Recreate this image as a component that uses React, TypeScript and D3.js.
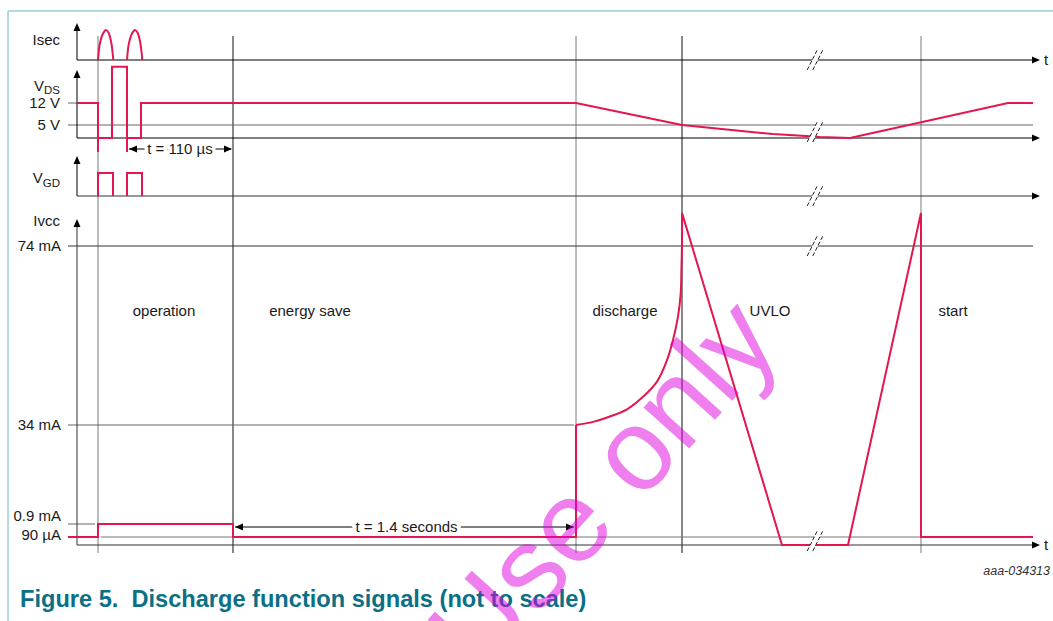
import React from 'react';
import * as d3 from 'd3';

const W = 1053;
const H = 621;

// ---- data (time in arbitrary units, chart is "not to scale") ----
const phaseBoundaries = [30, 165, 508, 614, 853];
const phaseNames = ['operation', 'energy save', 'discharge', 'UVLO', 'start'];
const phaseLabelTimes = [96, 242, 557, 702, 885];
const breakTime = 747;

// Isec humps
const isecHumpTimes = [
  [30, 32, 35.3, 38, 40.7, 43.3, 45.3],
  [59, 61, 64.3, 67, 69.7, 72.3, 74.3],
];
const isecHumpValues = [0, 0.57, 0.9, 1, 0.9, 0.57, 0];

// VDS (volts)
const vdsTimes = [9, 30, 30, 30, 44, 44, 59, 59, 59, 73, 73, 508, 614, 705, 742, 752, 782, 940, 965];
const vdsValues = [12, 12, -5.4, 0, 0, 23.5, 23.5, -5.4, 0, 0, 12, 12, 5, 1.5, 0.65, 0.38, 0, 12, 12];
const vdsTickValues = [12, 5];
const vdsTickLabels = ['12 V', '5 V'];

// VGD pulses
const vgdPulseTimes = [
  [30, 30, 45, 45],
  [59, 59, 74, 74],
];
const vgdPulseValues = [0, 1, 1, 0];

// Ivcc (mA)
const ivccStartTimes = [0, 30, 30, 165, 165, 508, 508];
const ivccStartValues = [0.09, 0.09, 0.9, 0.9, 0.09, 0.09, 34];
const ivccDischargeTimes = [508, 525, 542, 559, 575, 589, 599, 605, 610, 612.7, 613.5, 614, 614];
const ivccDischargeValues = [34, 34.7, 35.9, 37.5, 40.3, 43.7, 48.5, 53.0, 58.2, 63.4, 69.4, 74.6, 81.4];
const ivccEndTimes = [614, 714, 780, 853, 853, 965];
const ivccEndValues = [81.4, 0, 0, 81.4, 0.09, 0.09];
const ivccTickValues = [74, 34, 0.9, 0.09];
const ivccTickLabels = ['74 mA', '34 mA', '0.9 mA', '90 µA'];

// ---- scales ----
const x = d3.scaleLinear().domain([0, 972]).range([68, 1040]);
const isecY = d3.scaleLinear().domain([0, 1]).range([60, 30]);
const vdsY = d3.scaleLinear().domain([0, 5, 12]).range([138, 125, 103]);
const vgdY = d3.scaleLinear().domain([0, 1]).range([196, 173]);
const ivccY = d3.scaleLinear().domain([0, 0.09, 0.9, 34, 74]).range([545, 537, 524, 425, 246]);

const RED = '#e3164f';
const FONT = '"Liberation Sans", Arial, Helvetica, sans-serif';
const TEXT = '#1a1a1a';

const zip = (a: number[], b: number[]) => a.map((t, i) => [t, b[i]] as [number, number]);

function mkLine(yScale: any, curve: any = d3.curveLinear) {
  return d3
    .line<[number, number]>()
    .x((d) => x(d[0]))
    .y((d) => yScale(d[1]))
    .curve(curve);
}

const AXIS_X = x(9);
const END_X = x(972);
const LINE_END_X = x(965);
const TICK_X0 = x(0);

function ArrowRight({ tipX, y, color = '#000' }: { tipX: number; y: number; color?: string }) {
  return <polygon points={`${tipX},${y} ${tipX - 8},${y - 3.5} ${tipX - 8},${y + 3.5}`} fill={color} />;
}
function ArrowLeft({ tipX, y, color = '#000' }: { tipX: number; y: number; color?: string }) {
  return <polygon points={`${tipX},${y} ${tipX + 8},${y - 3.5} ${tipX + 8},${y + 3.5}`} fill={color} />;
}
function ArrowUp({ x: ax, tipY }: { x: number; tipY: number }) {
  return <polygon points={`${ax},${tipY} ${ax - 3.5},${tipY + 8} ${ax + 3.5},${tipY + 8}`} fill="#000" />;
}

function BreakMark({ cx, cy }: { cx: number; cy: number }) {
  const h = 10;
  const w = 5;
  const gap = 2.8;
  const l1 = [cx - gap - w, cy + h, cx - gap + w, cy - h];
  const l2 = [cx + gap - w, cy + h, cx + gap + w, cy - h];
  return (
    <g>
      <polygon
        points={`${l1[0]},${l1[1]} ${l1[2]},${l1[3]} ${l2[2]},${l2[3]} ${l2[0]},${l2[1]}`}
        fill="#fff"
      />
      <line x1={l1[0]} y1={l1[1]} x2={l1[2]} y2={l1[3]} stroke="#222" strokeWidth={1} strokeDasharray="4,2" />
      <line x1={l2[0]} y1={l2[1]} x2={l2[2]} y2={l2[3]} stroke="#222" strokeWidth={1} strokeDasharray="4,2" />
    </g>
  );
}

export default function App() {
  const bx = x(breakTime);
  const ruleTop = 36;
  const ruleBottom = 553;

  const isecLine = mkLine(isecY, d3.curveCatmullRom.alpha(0.5));
  const vdsLine = mkLine(vdsY);
  const vgdLine = mkLine(vgdY);
  const ivccLine = mkLine(ivccY);
  const ivccCurve = mkLine(ivccY, d3.curveCatmullRom.alpha(0.5));

  const labelStyle = { fontFamily: FONT, fontSize: 15, fill: TEXT } as const;

  return (
    <svg
      width={W}
      height={H}
      viewBox={`0 0 ${W} ${H}`}
      style={{ position: 'absolute', left: 0, top: 0, display: 'block', background: '#fff' }}
    >
      {/* frame */}
      <line x1={8} y1={11} x2={W} y2={11} stroke="#9ccfd8" strokeWidth={1.5} />
      <line x1={8} y1={11} x2={8} y2={H} stroke="#9ccfd8" strokeWidth={1.5} />

      {/* vertical phase rules */}
      {phaseBoundaries.map((t, i) => (
        <line
          key={'r' + i}
          x1={x(t)}
          x2={x(t)}
          y1={ruleTop}
          y2={ruleBottom}
          stroke={i % 2 === 0 ? '#7a7a7a' : '#111'}
          strokeWidth={1}
        />
      ))}

      {/* horizontal reference lines */}
      <line x1={TICK_X0} x2={AXIS_X} y1={vdsY(12)} y2={vdsY(12)} stroke="#666" strokeWidth={1} />
      <line x1={TICK_X0} x2={LINE_END_X} y1={vdsY(5)} y2={vdsY(5)} stroke="#666" strokeWidth={1} />
      <line x1={TICK_X0} x2={LINE_END_X} y1={ivccY(74)} y2={ivccY(74)} stroke="#333" strokeWidth={1} />
      <line x1={TICK_X0} x2={x(506)} y1={ivccY(34)} y2={ivccY(34)} stroke="#666" strokeWidth={1} />
      <line x1={TICK_X0} x2={x(27)} y1={ivccY(0.9)} y2={ivccY(0.9)} stroke="#666" strokeWidth={1} />
      <line x1={x(33)} x2={LINE_END_X} y1={ivccY(0.09)} y2={ivccY(0.09)} stroke="#777" strokeWidth={1} />

      {/* axes */}
      <line x1={AXIS_X} x2={AXIS_X} y1={isecY(0)} y2={25} stroke="#000" strokeWidth={1} />
      <ArrowUp x={AXIS_X} tipY={23} />
      <line x1={AXIS_X} x2={END_X - 4} y1={isecY(0)} y2={isecY(0)} stroke="#000" strokeWidth={1} />
      <ArrowRight tipX={END_X} y={isecY(0)} />

      <line x1={AXIS_X} x2={AXIS_X} y1={vdsY(0)} y2={72} stroke="#000" strokeWidth={1} />
      <ArrowUp x={AXIS_X} tipY={70} />
      <line x1={AXIS_X} x2={END_X - 4} y1={vdsY(0)} y2={vdsY(0)} stroke="#000" strokeWidth={1} />
      <ArrowRight tipX={END_X} y={vdsY(0)} />

      <line x1={AXIS_X} x2={AXIS_X} y1={vgdY(0)} y2={158} stroke="#000" strokeWidth={1} />
      <ArrowUp x={AXIS_X} tipY={156} />
      <line x1={AXIS_X} x2={END_X - 4} y1={vgdY(0)} y2={vgdY(0)} stroke="#333" strokeWidth={1} />
      <ArrowRight tipX={END_X} y={vgdY(0)} />

      <line x1={AXIS_X} x2={AXIS_X} y1={ivccY(0)} y2={221} stroke="#333" strokeWidth={1} />
      <ArrowUp x={AXIS_X} tipY={219} />
      <line x1={AXIS_X} x2={END_X - 4} y1={ivccY(0)} y2={ivccY(0)} stroke="#333" strokeWidth={1} />
      <ArrowRight tipX={END_X} y={ivccY(0)} />

      {/* signals */}
      <g fill="none" stroke={RED} strokeWidth={2} strokeLinejoin="miter">
        {isecHumpTimes.map((ts, i) => (
          <path key={'h' + i} d={isecLine(zip(ts, isecHumpValues)) || ''} />
        ))}
        <path d={vdsLine(zip(vdsTimes, vdsValues)) || ''} />
        {vgdPulseTimes.map((ts, i) => (
          <path key={'g' + i} d={vgdLine(zip(ts, vgdPulseValues)) || ''} />
        ))}
        <path d={ivccLine(zip(ivccStartTimes, ivccStartValues)) || ''} />
        <path d={ivccCurve(zip(ivccDischargeTimes, ivccDischargeValues)) || ''} />
        <path d={ivccLine(zip(ivccEndTimes, ivccEndValues)) || ''} />
      </g>

      {/* break marks */}
      <BreakMark cx={bx} cy={isecY(0)} />
      <BreakMark cx={bx} cy={132} />
      <BreakMark cx={bx} cy={vgdY(0)} />
      <BreakMark cx={bx} cy={ivccY(74)} />
      <BreakMark cx={bx} cy={541} />

      {/* left labels */}
      <text x={60} y={45} textAnchor="end" style={labelStyle}>Isec</text>
      <text x={60} y={91} textAnchor="end" style={labelStyle}>
        V<tspan fontSize={11.5} dy={3}>DS</tspan>
      </text>
      {vdsTickValues.map((v, i) => (
        <text key={'vt' + i} x={60} y={vdsY(v)} dy="0.36em" textAnchor="end" style={labelStyle}>
          {vdsTickLabels[i]}
        </text>
      ))}
      <text x={60} y={183} textAnchor="end" style={labelStyle}>
        V<tspan fontSize={11.5} dy={3.5}>GD</tspan>
      </text>
      <text x={60} y={226} textAnchor="end" style={labelStyle}>Ivcc</text>
      {ivccTickValues.map((v, i) => {
        const yy = ivccY(v) + (v === 0.9 ? -8 : v === 0.09 ? -2 : 0);
        return (
          <text key={'it' + i} x={61} y={yy} dy="0.36em" textAnchor="end" style={labelStyle}>
            {ivccTickLabels[i]}
          </text>
        );
      })}

      {/* t labels */}
      <text x={1044} y={isecY(0)} dy="0.36em" style={labelStyle}>t</text>
      <text x={1044} y={ivccY(0)} dy="0.36em" style={labelStyle}>t</text>

      {/* phase labels */}
      {phaseNames.map((n, i) => (
        <text key={'p' + i} x={x(phaseLabelTimes[i])} y={316} textAnchor="middle" style={labelStyle}>
          {n}
        </text>
      ))}

      {/* duration arrows */}
      <line x1={x(59) + 2} x2={x(165) - 2} y1={149} y2={149} stroke="#000" strokeWidth={1} />
      <ArrowLeft tipX={x(59) + 2} y={149} />
      <ArrowRight tipX={x(165) - 1} y={149} />
      <text
        x={(x(59) + x(165)) / 2}
        y={149}
        dy="0.36em"
        textAnchor="middle"
        style={{ ...labelStyle, paintOrder: 'stroke' }}
        stroke="#fff"
        strokeWidth={7}
        strokeLinejoin="round"
      >
        t = 110 µs
      </text>

      <line x1={x(165) + 2} x2={x(508) - 2} y1={527} y2={527} stroke="#000" strokeWidth={1} />
      <ArrowLeft tipX={x(165) + 2} y={527} />
      <ArrowRight tipX={x(508) - 2} y={527} />
      <text
        x={(x(165) + x(508)) / 2 + 2}
        y={527}
        dy="0.36em"
        textAnchor="middle"
        style={{ ...labelStyle, paintOrder: 'stroke' }}
        stroke="#fff"
        strokeWidth={8}
        strokeLinejoin="round"
      >
        t = 1.4 seconds
      </text>

      {/* id */}
      <text
        x={1050}
        y={575}
        textAnchor="end"
        style={{ fontFamily: FONT, fontSize: 12.5, fontStyle: 'italic', fill: '#333' }}
      >
        aaa-034313
      </text>

      {/* caption */}
      <text
        x={20}
        y={607}
        style={{ fontFamily: FONT, fontSize: 23.6, fontWeight: 'bold', fill: '#0b6f86', whiteSpace: 'pre' }}
      >
        {'Figure 5.  Discharge function signals (not to scale)'}
      </text>

      {/* watermark */}
      <text
        x={632}
        y={512}
        transform="rotate(-48 632 512)"
        textAnchor="middle"
        style={{ fontFamily: FONT, fontSize: 116, fill: '#e000e0', fillOpacity: 0.5, whiteSpace: 'pre' }}
      >
        Use only
      </text>
    </svg>
  );
}
